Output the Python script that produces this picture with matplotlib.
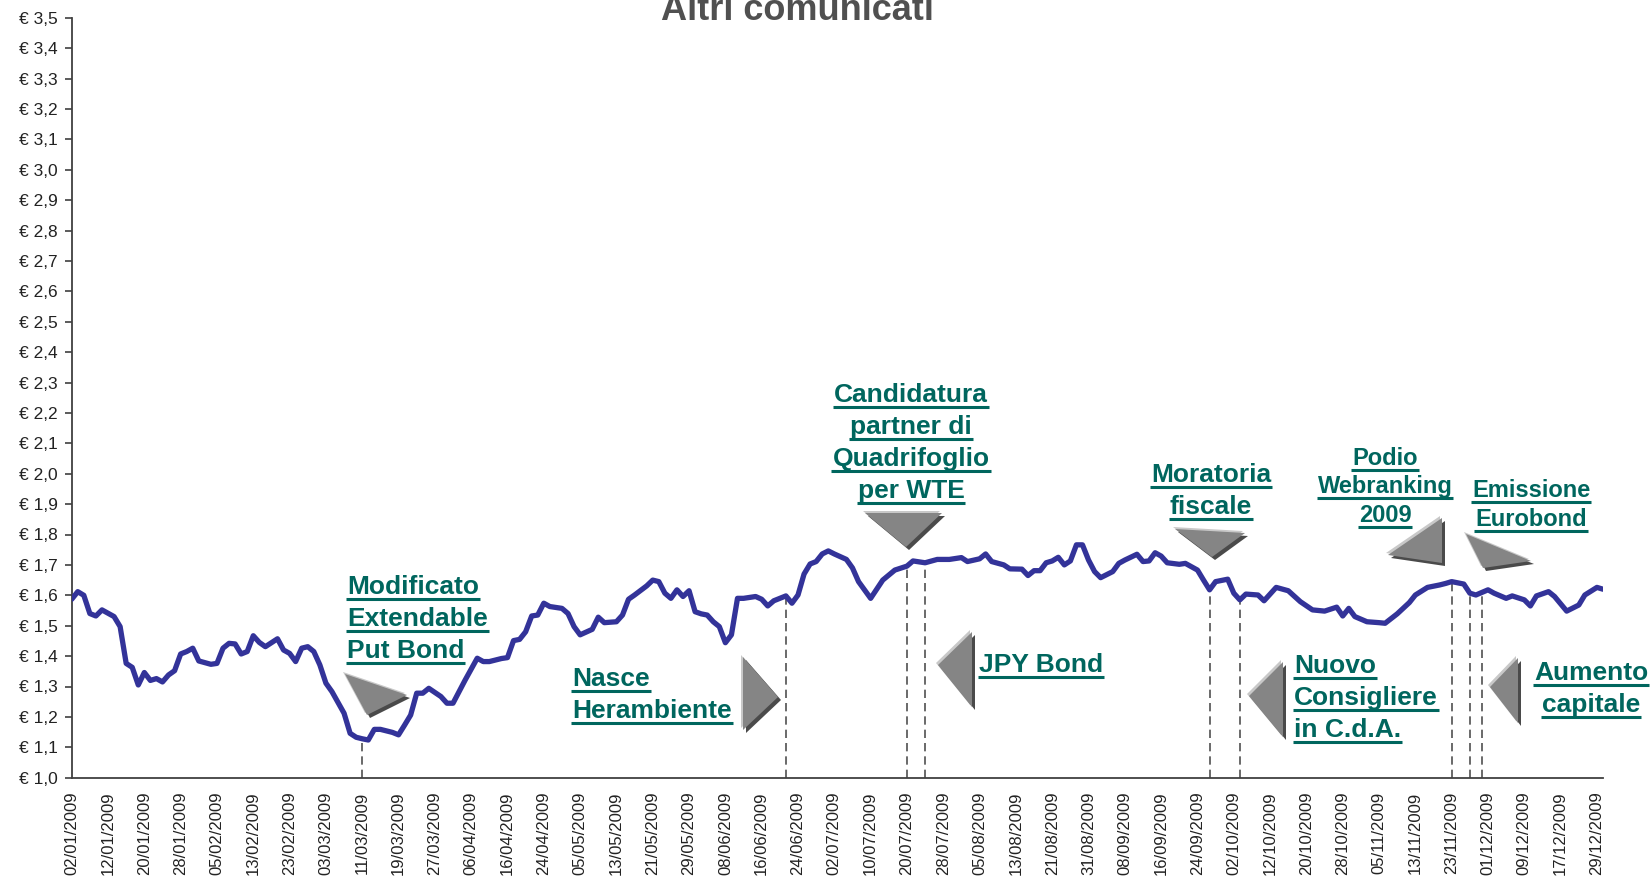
import numpy as np
import matplotlib
matplotlib.use('Agg')
import matplotlib.pyplot as plt
from matplotlib.patches import Polygon

plt.rcParams['font.family'] = ['Liberation Sans', 'DejaVu Sans']

# trading-day index (0 = 02/01/2009, 253 = 30/12/2009) and closing price
day_idx = [0, 1, 2, 3, 4, 5, 7, 8, 9, 10, 11, 12, 13, 14, 15, 16, 17, 18, 19, 20,
           21, 23, 24, 25, 26, 27, 28, 29, 30, 31, 32, 34, 35, 36, 37, 38, 39, 40, 41, 42,
           43, 45, 46, 47, 48, 49, 50, 51, 53, 54, 55, 56, 57, 58, 59, 61, 62, 63, 64, 65,
           67, 68, 69, 71, 72, 73, 74, 75, 76, 77, 78, 79, 81, 82, 83, 84, 86, 87, 88, 90,
           91, 92, 93, 95, 96, 97, 98, 99, 100, 101, 102, 103, 104, 105, 106, 107, 108, 109, 110, 111,
           113, 114, 115, 116, 118, 119, 120, 121, 122, 123, 124, 125, 126, 128, 129, 130, 132, 134, 136, 138,
           139, 141, 143, 145, 147, 148, 150, 151, 152, 154, 155, 157, 158, 159, 160, 161, 162, 163, 164, 165,
           166, 167, 168, 169, 170, 172, 173, 174, 176, 177, 178, 179, 180, 181, 183, 184, 186, 187, 188, 189,
           191, 192, 193, 194, 196, 197, 199, 201, 203, 205, 207, 209, 210, 211, 212, 214, 216, 217, 219, 221,
           222, 224, 226, 227, 228, 230, 231, 232, 234, 235, 237, 238, 240, 241, 242, 244, 245, 247, 249, 250,
           252, 253]
price = [1.587, 1.612, 1.600, 1.540, 1.532, 1.552, 1.530, 1.497, 1.376, 1.363, 1.305, 1.346, 1.320, 1.326, 1.315, 1.338, 1.352, 1.407, 1.415, 1.426,
         1.384, 1.373, 1.376, 1.426, 1.442, 1.440, 1.407, 1.415, 1.467, 1.445, 1.431, 1.457, 1.420, 1.409, 1.382, 1.426, 1.431, 1.415, 1.371, 1.311,
         1.283, 1.212, 1.146, 1.133, 1.128, 1.124, 1.159, 1.159, 1.149, 1.141, 1.173, 1.206, 1.278, 1.278, 1.294, 1.267, 1.245, 1.245, 1.283, 1.321,
         1.393, 1.382, 1.382, 1.392, 1.395, 1.451, 1.455, 1.480, 1.532, 1.535, 1.574, 1.563, 1.557, 1.540, 1.497, 1.470, 1.488, 1.528, 1.510, 1.513,
         1.535, 1.587, 1.601, 1.631, 1.650, 1.645, 1.607, 1.590, 1.618, 1.596, 1.615, 1.546, 1.539, 1.535, 1.513, 1.497, 1.444, 1.470, 1.590, 1.590,
         1.596, 1.587, 1.565, 1.582, 1.598, 1.574, 1.601, 1.670, 1.703, 1.711, 1.736, 1.746, 1.736, 1.718, 1.690, 1.645, 1.590, 1.650, 1.683, 1.696,
         1.713, 1.707, 1.718, 1.718, 1.724, 1.711, 1.720, 1.736, 1.711, 1.700, 1.687, 1.686, 1.665, 1.681, 1.681, 1.707, 1.713, 1.725, 1.700, 1.713,
         1.766, 1.766, 1.716, 1.678, 1.658, 1.678, 1.705, 1.716, 1.735, 1.711, 1.713, 1.740, 1.729, 1.707, 1.702, 1.705, 1.683, 1.650, 1.618, 1.645,
         1.653, 1.607, 1.585, 1.604, 1.601, 1.582, 1.626, 1.615, 1.579, 1.552, 1.548, 1.561, 1.532, 1.557, 1.530, 1.513, 1.510, 1.508, 1.539, 1.576,
         1.601, 1.626, 1.634, 1.639, 1.645, 1.637, 1.607, 1.601, 1.618, 1.607, 1.590, 1.598, 1.585, 1.565, 1.598, 1.612, 1.596, 1.548, 1.568, 1.601,
         1.626, 1.620]

xtick_labels = ['02/01/2009', '12/01/2009', '20/01/2009', '28/01/2009', '05/02/2009', '13/02/2009',
                '23/02/2009', '03/03/2009', '11/03/2009', '19/03/2009', '27/03/2009', '06/04/2009',
                '16/04/2009', '24/04/2009', '05/05/2009', '13/05/2009', '21/05/2009', '29/05/2009',
                '08/06/2009', '16/06/2009', '24/06/2009', '02/07/2009', '10/07/2009', '20/07/2009',
                '28/07/2009', '05/08/2009', '13/08/2009', '21/08/2009', '31/08/2009', '08/09/2009',
                '16/09/2009', '24/09/2009', '02/10/2009', '12/10/2009', '20/10/2009', '28/10/2009',
                '05/11/2009', '13/11/2009', '23/11/2009', '01/12/2009', '09/12/2009', '17/12/2009',
                '29/12/2009']
yticks = [1.0, 1.1, 1.2, 1.3, 1.4, 1.5, 1.6, 1.7, 1.8, 1.9, 2.0, 2.1, 2.2, 2.3, 2.4, 2.5,
          2.6, 2.7, 2.8, 2.9, 3.0, 3.1, 3.2, 3.3, 3.4, 3.5]

# trading days of the announcements (dashed markers)
event_idx = [48, 118, 138, 141, 188, 193, 228, 231, 233]

# callouts: text lines, anchor (figure px, y from top), line step, alignment, size
notes = [
    (['Modificato', 'Extendable', 'Put Bond'], 347, 594, 32, 'left', 19),
    (['Nasce', 'Herambiente'], 572, 686, 32, 'left', 19),
    (['Candidatura', 'partner di', 'Quadrifoglio', 'per WTE'], 911, 402, 32, 'center', 19),
    (['JPY Bond'], 979, 672, 32, 'left', 19),
    (['Moratoria', 'fiscale'], 1211, 482, 32, 'center', 19),
    (['Podio', 'Webranking', '2009'], 1385, 465, 28.5, 'center', 17),
    (['Emissione', 'Eurobond'], 1531, 497, 29, 'center', 17),
    (['Nuovo', 'Consigliere', 'in C.d.A.'], 1294, 673, 32, 'left', 19),
    (['Aumento', 'capitale'], 1591, 680, 32, 'center', 19),
]
arrows = [
    [(345, 674), (407, 695), (367, 715)],
    [(743, 657), (778, 697), (743, 730)],
    [(865, 513), (942, 513), (906, 547)],
    [(972, 632), (938, 665), (972, 707)],
    [(1175, 529), (1245, 533), (1212, 557)],
    [(1442, 518), (1388, 555), (1442, 563)],
    [(1466, 534), (1531, 561), (1483, 568)],
    [(1283, 662), (1249, 696), (1283, 737)],
    [(1518, 658), (1490, 687), (1518, 723)],
]

W, H = 1652, 876
TEAL = '#00665e'

fig = plt.figure(figsize=(W / 100, H / 100), dpi=100)
ax = fig.add_axes([71.7 / W, 1 - 777.7 / H, (1603 - 71.7) / W, (777.7 - 17.7) / H])

ax.plot(day_idx, price, color='#333399', lw=3.8, solid_joinstyle='round',
        solid_capstyle='round', zorder=3)

tops = np.interp(event_idx, day_idx, price)
ax.vlines(event_idx, 1.0, tops, colors='#505050', lw=1.2, linestyles=(0, (5, 3)), zorder=2)

ax.set_xlim(0, 253)
ax.set_ylim(1.0, 3.5)
ax.set_yticks(yticks)
ax.set_yticklabels(['€ ' + f'{v:.1f}'.replace('.', ',') for v in yticks])
ax.set_xticks(np.arange(len(xtick_labels)) * 6)
ax.set_xticklabels(xtick_labels, rotation=90, va='top', ha='center')
ax.tick_params(axis='x', length=0, pad=10, labelsize=12, labelcolor='#222222')
ax.tick_params(axis='y', length=5, width=1.2, pad=5, labelsize=12.5, labelcolor='#222222', color='#404040')
for s in ['top', 'right']:
    ax.spines[s].set_visible(False)
for s in ['left', 'bottom']:
    ax.spines[s].set_color('#404040')
    ax.spines[s].set_linewidth(1.3)

fig.text(797.5 / W, 1 - 20 / H, 'Altri comunicati', ha='center', va='baseline',
         fontsize=26, fontweight='bold', color='#505050')

# overlay in pixel coordinates for callouts
ov = fig.add_axes([0, 0, 1, 1], zorder=5)
ov.set_xlim(0, W)
ov.set_ylim(H, 0)
ov.axis('off')
ov.patch.set_alpha(0)

for pts in arrows:
    p = np.array(pts, dtype=float)
    ov.add_patch(Polygon(p + [-2, -2], closed=True, color='#c8c8c8', lw=0))
    ov.add_patch(Polygon(p + [3, 3], closed=True, color='#4a4a4a', lw=0))
    ov.add_patch(Polygon(p, closed=True, color='#858585', lw=0))

texts = []
for lines, x, y0, step, ha, size in notes:
    for k, line in enumerate(lines):
        t = ov.text(x, y0 + k * step, line, ha=ha, va='baseline', fontsize=size,
                    fontweight='bold', color=TEAL)
        texts.append(t)

fig.canvas.draw()
r = fig.canvas.get_renderer()
for t in texts:
    bb = t.get_window_extent(r)
    base = t.get_position()[1]
    ov.plot([bb.x0 - 1, bb.x1 + 1], [base + 4.5, base + 4.5], color=TEAL, lw=2.2,
            solid_capstyle='butt')

fig.savefig('out.png', dpi=100)
